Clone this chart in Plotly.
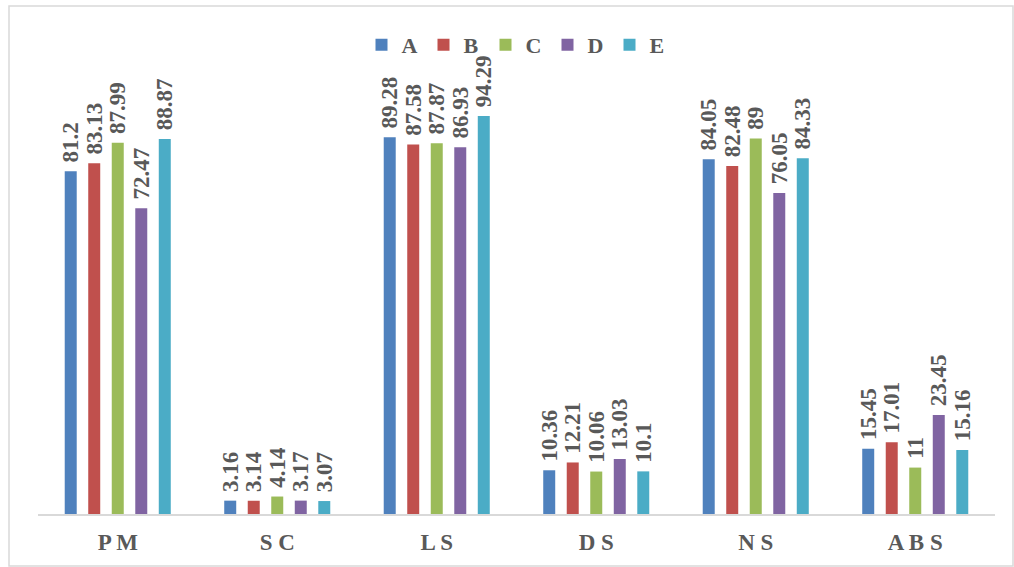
import plotly.graph_objects as go

categories = ["P M", "S C", "L S", "D S", "N S", "A B S"]
series_names = ["A", "B", "C", "D", "E"]
values_A = [81.2, 3.16, 89.28, 10.36, 84.05, 15.45]
values_B = [83.13, 3.14, 87.58, 12.21, 82.48, 17.01]
values_C = [87.99, 4.14, 87.87, 10.06, 89, 11]
values_D = [72.47, 3.17, 86.93, 13.03, 76.05, 23.45]
values_E = [88.87, 3.07, 94.29, 10.1, 84.33, 15.16]
colors = ["#4F81BD", "#C0504D", "#9BBB59", "#8064A2", "#4BACC6"]

all_values = [values_A, values_B, values_C, values_D, values_E]

W, H = 1014, 567
ml, mr, mt, mb = 38, 19, 92, 53
serif = "Liberation Serif, Times New Roman, serif"
gray = "#595959"

fig = go.Figure()
for name, vals, col in zip(series_names, all_values, colors):
    fig.add_trace(go.Bar(
        name=name, x=categories, y=vals,
        marker=dict(color=col, line=dict(width=0)),
        text=["\u00a0" + str(v) for v in vals],
        textposition="outside", textangle=-90,
        constraintext="none", cliponaxis=False,
        textfont=dict(family=serif, size=23, color=gray, weight="bold"),
    ))

pw = W - ml - mr
ph = H - mt - mb
fig.add_shape(type="rect", xref="paper", yref="paper",
              x0=(9 - ml) / pw, x1=(1013 - ml) / pw,
              y0=(H - mb - 566) / ph, y1=(H - mb - 6) / ph,
              line=dict(color="#d9d9d9", width=1.5), fillcolor="rgba(0,0,0,0)",
              layer="below")

fig.update_layout(
    width=W, height=H,
    margin=dict(l=ml, r=mr, t=mt, b=mb, autoexpand=False),
    paper_bgcolor="white", plot_bgcolor="white",
    barmode="group", bargap=0.263, bargroupgap=0.49,
    showlegend=True,
    legend=dict(orientation="h", x=0.5, xanchor="center",
                y=(H - mb - 45) / ph, yanchor="middle",
                font=dict(family=serif, size=22, color=gray, weight="bold"),
                itemwidth=30, entrywidth=17, entrywidthmode="pixels",
                bgcolor="rgba(0,0,0,0)"),
    xaxis=dict(showline=True, linecolor="#d9d9d9", linewidth=2,
               showgrid=False, ticks="", ticklabelstandoff=6, automargin=False,
               tickfont=dict(family=serif, size=23, color=gray, weight="bold")),
    yaxis=dict(range=[0, 100], visible=False, showgrid=False, zeroline=False,
               automargin=False),
)

fig.write_html("out.html")
